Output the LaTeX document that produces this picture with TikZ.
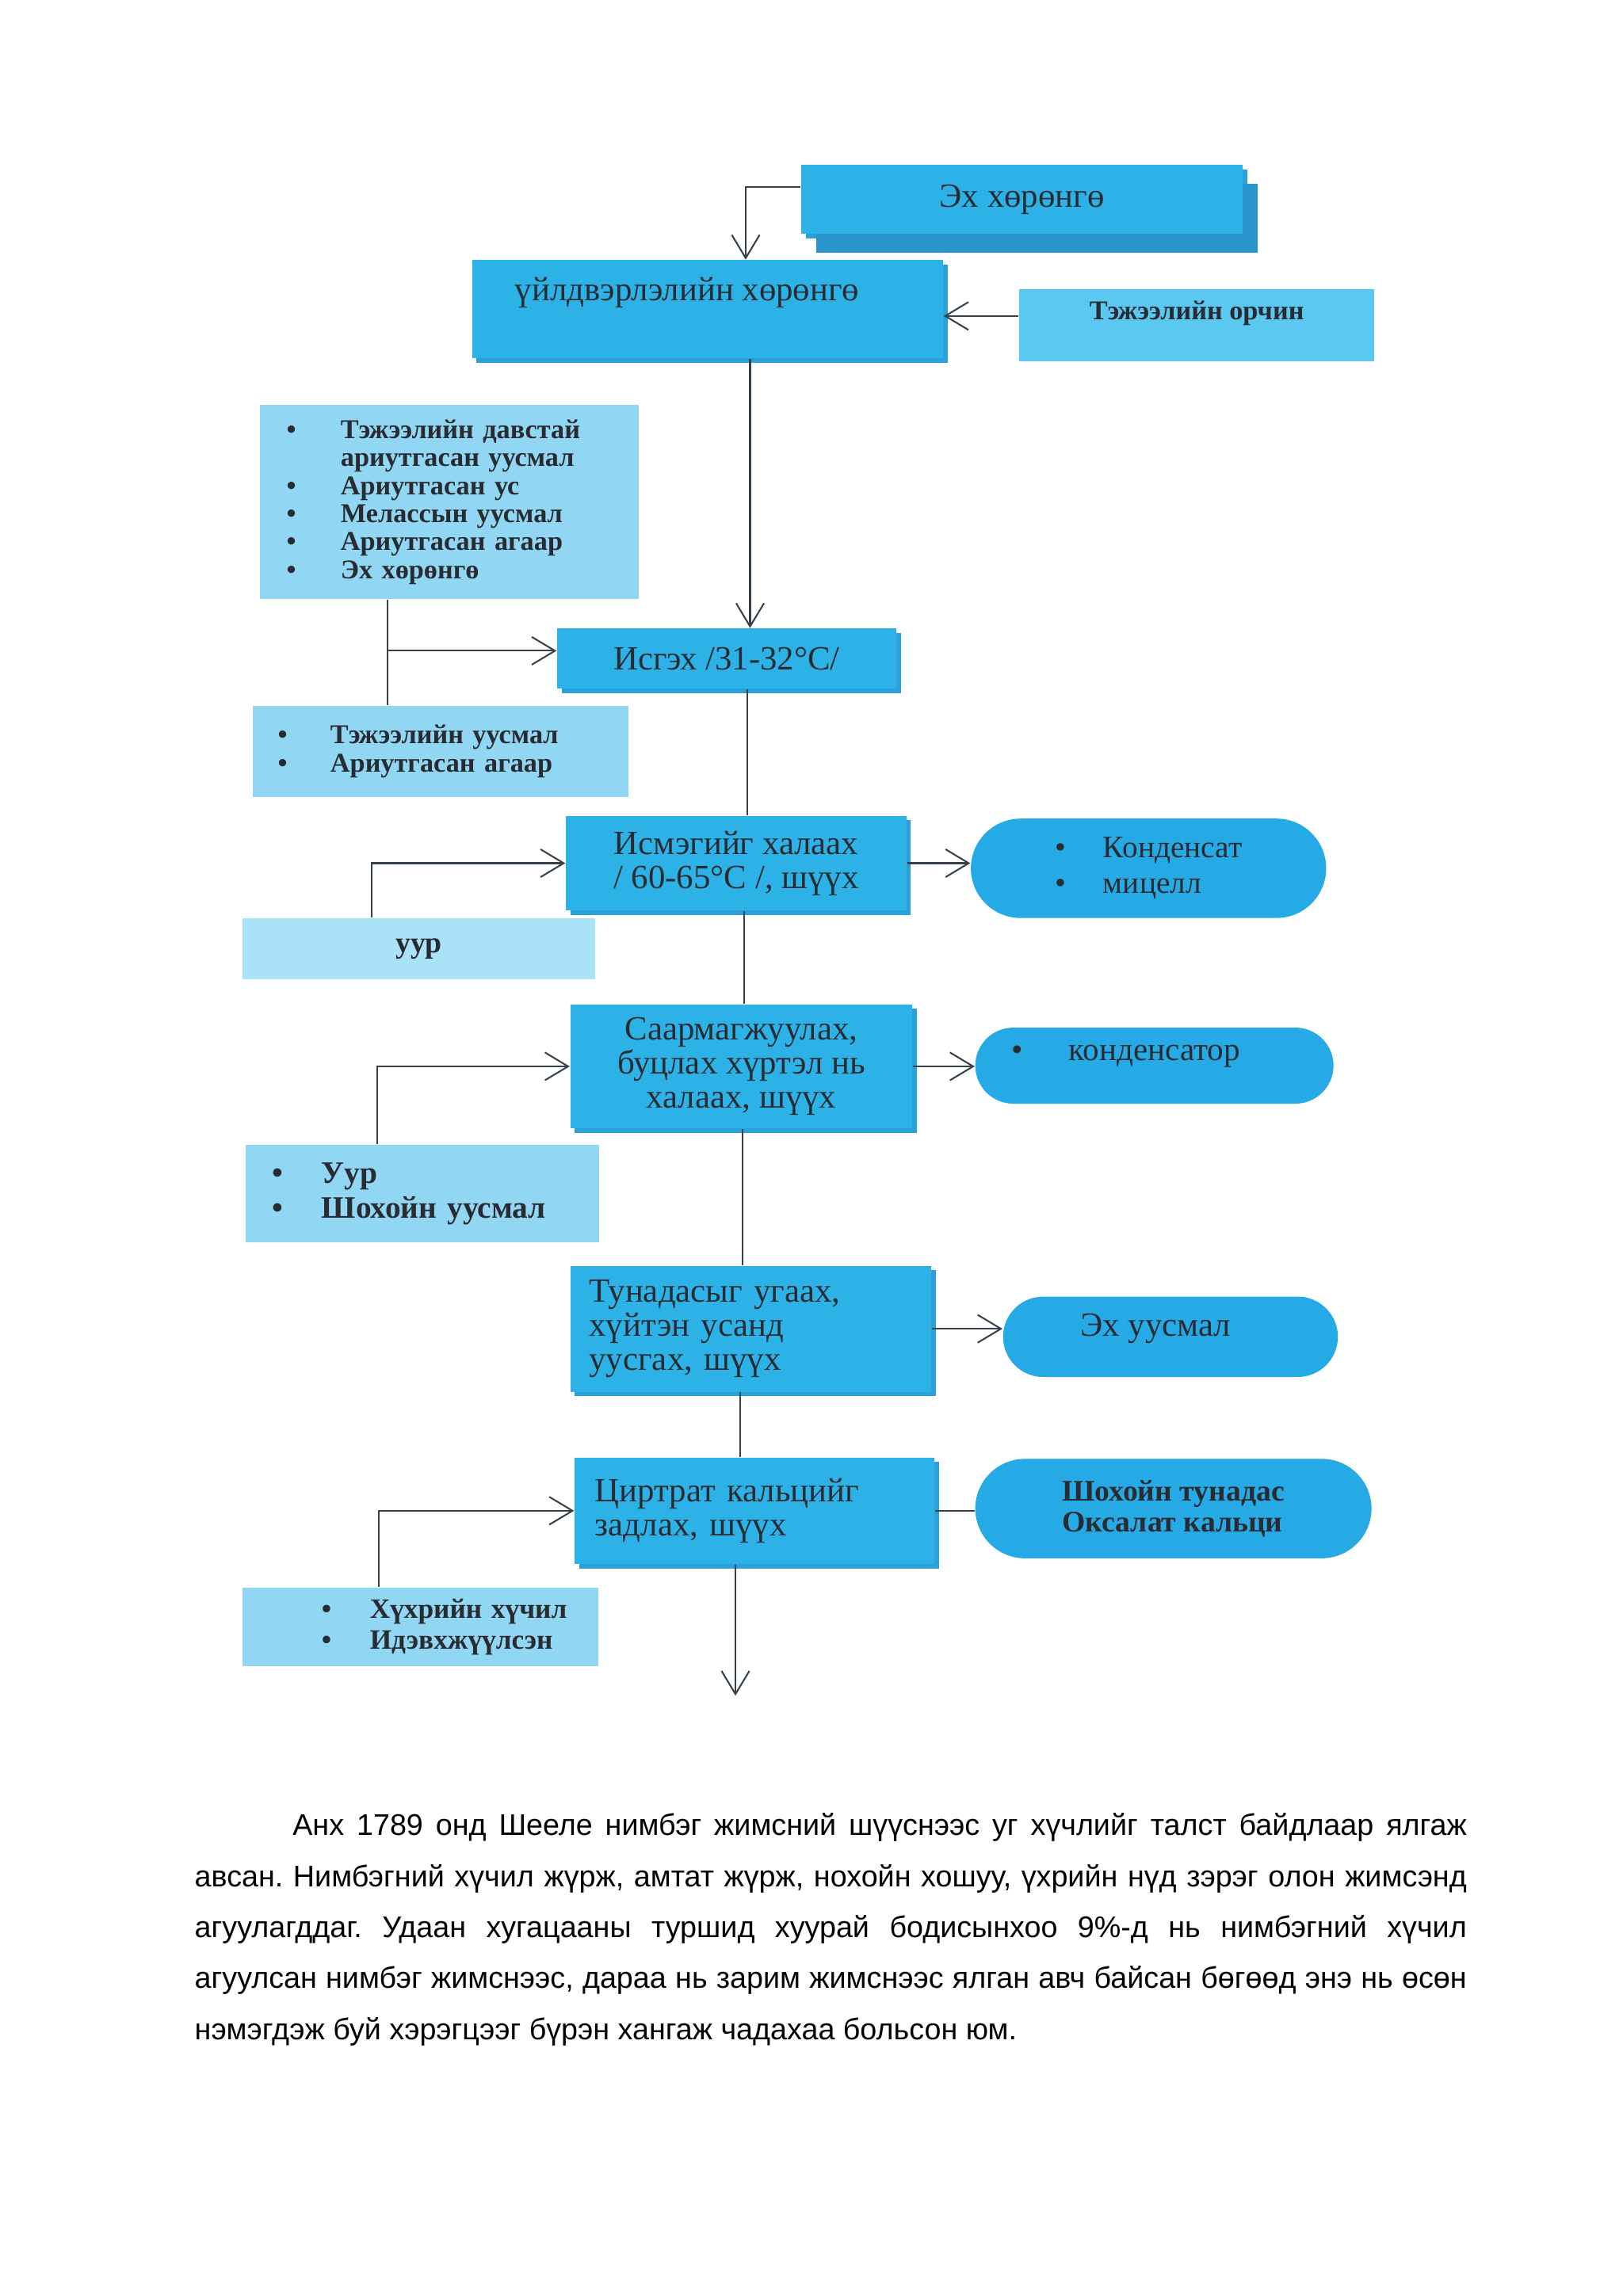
\documentclass[tikz,border=0pt]{standalone}
\usepackage{fontspec}
\setmainfont{Liberation Serif}
\newfontfamily\sansbody{Liberation Sans}
\usetikzlibrary{shapes.misc}
\usetikzlibrary{shadows}
\usetikzlibrary{arrows.meta}
\newdimen\pxu \pxu=0.18919mm
\newcommand\bul[2]{\makebox[#1][l]{\textbullet}#2}
\definecolor{stepblue}{RGB}{45,178,232}
\definecolor{feedblue}{RGB}{90,200,240}
\definecolor{listblue}{RGB}{145,214,243}
\definecolor{paleblue}{RGB}{170,226,247}
\definecolor{pillblue}{RGB}{38,170,230}
\definecolor{shadeblue}{RGB}{40,150,205}
\definecolor{inkgray}{RGB}{40,44,50}
\definecolor{linkgray}{RGB}{55,65,75}
\begin{document}
\begin{tikzpicture}[x=0.18919mm,y=-0.18919mm,
	stepbox/.style={rectangle, fill=stepblue, text=inkgray, inner sep=0pt, font=\fontsize{12.5}{12.6}\selectfont, copy shadow={shadow xshift=3\pxu, shadow yshift=-3\pxu, fill=shadeblue!60!stepblue, draw=none}},
	listbox/.style={rectangle, fill=listblue, text=inkgray, inner ysep=0pt, align=left, font=\bfseries\fontsize{10}{10.3}\selectfont},
	pill/.style={rounded rectangle, fill=pillblue, text=inkgray, inner sep=0pt},
	link/.style={draw=linkgray, line width=0.6pt},
	flow/.style={link, -{Straight Barb[length=3mm,width=3.6mm]}}]
	\fill[white] (0,0) rectangle (1110,1570.7);
	\node [stepbox, minimum width=302\pxu, minimum height=47\pxu, copy shadow={shadow xshift=10\pxu, shadow yshift=-13\pxu, fill=shadeblue, draw=none}] (src) at (699,136.5) {Эх хөрөнгө};
	\node [stepbox, minimum width=322\pxu, minimum height=67\pxu, text height=3.1mm, text depth=5.4mm] (prod) at (484,211.5) {үйлдвэрлэлийн хөрөнгө\hspace*{5.3mm}};
	\node [listbox, fill=feedblue, minimum width=243\pxu, minimum height=49\pxu, text height=2.6mm, text depth=4mm] (feed) at (818.5,222.5) {Тэжээлийн орчин};
	\node [listbox, minimum width=259\pxu, minimum height=133\pxu, inner xsep=18\pxu, text width=223\pxu] (listA) at (307.5,343.5) {\bul{37\pxu}{Тэжээлийн давстай}\\ \hspace*{37\pxu}ариутгасан уусмал\\ \bul{37\pxu}{Ариутгасан ус}\\ \bul{37\pxu}{Мелассын уусмал}\\ \bul{37\pxu}{Ариутгасан агаар}\\ \bul{37\pxu}{Эх хөрөнгө}};
	\node [stepbox, minimum width=232\pxu, minimum height=41\pxu] (ferm) at (497,450.5) {Исгэх /31-32°C/};
	\node [listbox, minimum width=257\pxu, minimum height=62\pxu, inner xsep=17\pxu, text width=223\pxu] (listB) at (301.5,514) {\bul{36\pxu}{Тэжээлийн уусмал}\\ \bul{36\pxu}{Ариутгасан агаар}};
	\node [stepbox, align=center, minimum width=233\pxu, minimum height=65\pxu] (heat) at (503.5,590.5) {Исмэгийг халаах\\/ 60-65°C /, шүүх};
	\node [pill, align=left, font=\fontsize{11.5}{12.9}\selectfont, minimum width=243\pxu, minimum height=68\pxu] (pillA) at (785.5,594) {\bul{33\pxu}{Конденсат}\\ \bul{33\pxu}{мицелл}};
	\node [listbox, fill=paleblue, font=\bfseries\fontsize{11}{11}\selectfont, minimum width=241\pxu, minimum height=42\pxu] (steamA) at (286.5,649) {уур};
	\node [stepbox, align=center, minimum width=234\pxu, minimum height=85\pxu] (neut) at (507,729.5) {Саармагжуулах,\\буцлах хүртэл нь\\халаах, шүүх};
	\node [pill, font=\fontsize{12}{12}\selectfont, minimum width=245\pxu, minimum height=52\pxu, text height=2.9mm, text depth=4.3mm] (pillB) at (789.5,729) {\llap{\textbullet\hspace{5.9mm}}конденсатор};
	\node [listbox, font=\bfseries\fontsize{11.5}{12.9}\selectfont, minimum width=242\pxu, minimum height=67\pxu, inner xsep=18\pxu, text width=206\pxu] (steamB) at (289,816.5) {\bul{34\pxu}{Уур}\\ \bul{34\pxu}{Шохойн уусмал}};
	\node [stepbox, align=left, minimum width=247\pxu, minimum height=86\pxu, inner xsep=13\pxu, text width=221\pxu] (wash) at (513.5,909) {Тунадасыг угаах,\\хүйтэн усанд\\уусгах, шүүх};
	\node [pill, font=\fontsize{12.5}{12.5}\selectfont, minimum width=229\pxu, minimum height=55\pxu, text height=2.9mm, text depth=3mm] (pillC) at (800.5,914.5) {Эх уусмал\hspace*{3.8mm}};
	\node [stepbox, align=left, minimum width=246\pxu, minimum height=73\pxu, inner xsep=14\pxu, text width=218\pxu] (split) at (516,1033.5) {Циртрат кальцийг\\задлах, шүүх};
	\node [pill, align=left, font=\bfseries\fontsize{11}{11.5}\selectfont, minimum width=271\pxu, minimum height=68\pxu] (pillD) at (802.5,1032) {Шохойн тунадас\\Оксалат кальци};
	\node [listbox, font=\bfseries\fontsize{10.3}{11.2}\selectfont, minimum width=243\pxu, minimum height=54\pxu, inner xsep=18\pxu, text width=207\pxu] (acid) at (287.5,1113) {\hspace*{36\pxu}\bul{33\pxu}{Хүхрийн хүчил}\\ \hspace*{36\pxu}\bul{33\pxu}{Идэвхжүүлсэн}};
	\coordinate (outlet) at (503,1160);
	
	\draw[flow] ([yshift=1.6mm]src.west) -| (510,0 |- prod.north); \draw[flow] ([yshift=1.2mm]feed.west) -- ([yshift=1.2mm]feed.west -| prod.east);
	\draw[flow] (513,0 |- prod.south) -- (513,0 |- ferm.north);
	\draw[link] (265,0 |- listA.south) -- (265,0 |- listB.north); \draw[flow] ([yshift=1mm]ferm.west -| 265,0) -- ([yshift=1mm]ferm.west);
	\draw[link] (511,0 |- ferm.south) -- (511,0 |- heat.north);
	\draw[flow] (254,0 |- steamA.north) |- (heat.west); \draw[flow] (heat.east) -- (heat.east -| pillA.west);
	\draw[link] (509,0 |- heat.south) -- (509,0 |- neut.north);
	\draw[flow] (258,0 |- steamB.north) |- (neut.west); \draw[flow] (neut.east) -- (neut.east -| pillB.west);
	\draw[link] (508,0 |- neut.south) -- (508,0 |- wash.north);
	\draw[flow] (wash.east) -- (wash.east -| pillC.west);
	\draw[link] (506,0 |- wash.south) -- (506,0 |- split.north);
	\draw[link] (split.east) -- (split.east -| pillD.west); \draw[flow] (259,0 |- acid.north) |- (split.west);
	\draw[flow] (503,0 |- split.south) -- (outlet);
	
	\node [anchor=base west, inner sep=0pt, text width=870\pxu, align=justify, font=\sansbody\fontsize{11}{18.8}\selectfont\frenchspacing] (para) at (132.8,1255.6) {\hspace*{67\pxu}Анх 1789 онд Шееле нимбэг жимсний шүүснээс уг хүчлийг талст байдлаар ялгаж\linebreak авсан. Нимбэгний хүчил жүрж, амтат жүрж, нохойн хошуу, үхрийн нүд зэрэг олон жимсэнд\linebreak агуулагддаг. Удаан хугацааны туршид хуурай бодисынхоо 9\%-д нь нимбэгний хүчил\linebreak агуулсан нимбэг жимснээс, дараа нь зарим жимснээс ялган авч байсан бөгөөд энэ нь өсөн\linebreak нэмэгдэж буй хэрэгцээг бүрэн хангаж чадахаа больсон юм.};
\end{tikzpicture}
\end{document}
